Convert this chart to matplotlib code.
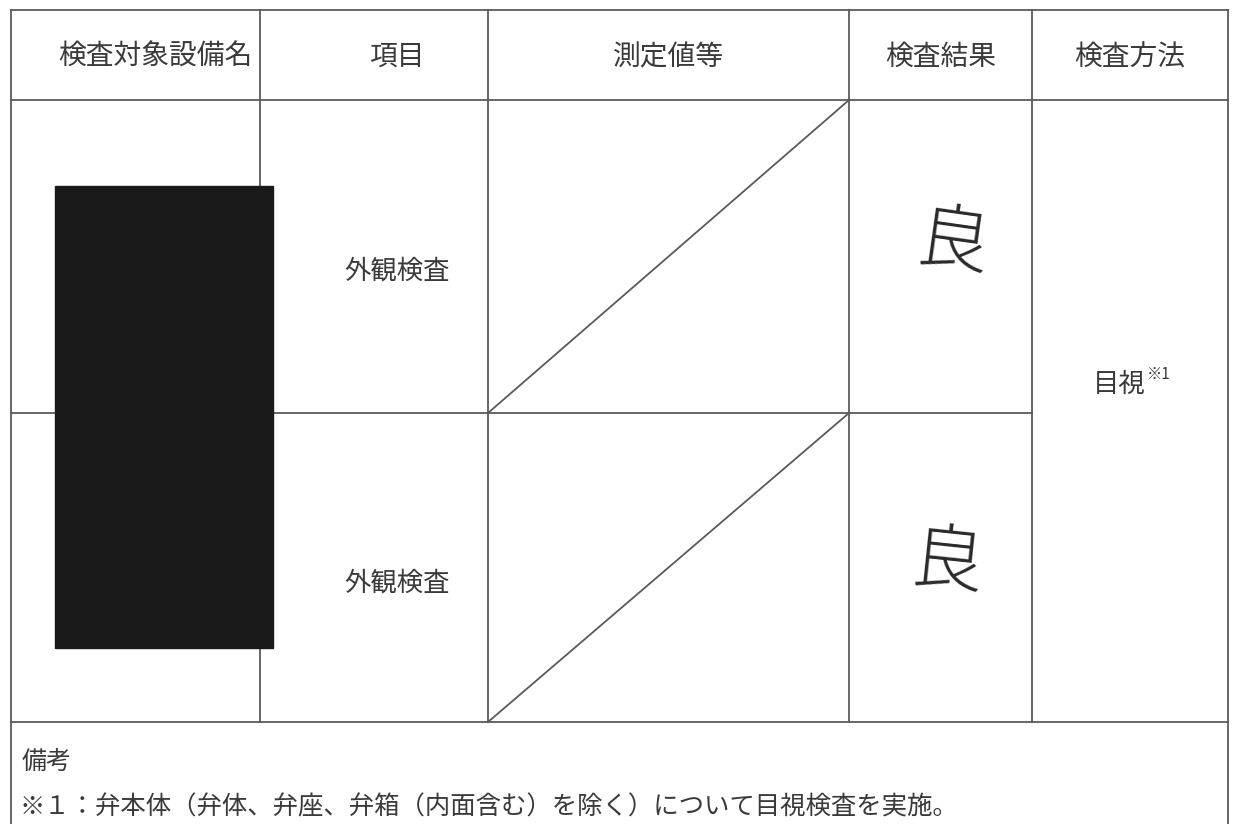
import matplotlib
matplotlib.use('Agg')
import matplotlib.pyplot as plt
from matplotlib.patches import Rectangle

plt.rcParams['font.family'] = ['Noto Sans CJK JP', 'DejaVu Sans']

headers = ['検査対象設備名', '項目', '測定値等', '検査結果', '検査方法']
items = ['外観検査', '外観検査']
results = ['良', '良']
method = '目視'
method_note = '※1'
remark_title = '備考'
remark_text = '※１：弁本体（弁体、弁座、弁箱（内面含む）を除く）について目視検査を実施。'

# layout in pixels
col_x = [11, 260, 488, 849, 1032, 1228]
row_y = [10, 100, 413, 722]
W, H = 1237, 824
line_c = '#5a5a5a'
txt_c = '#3a3a3a'

fig = plt.figure(figsize=(W / 100, H / 100), dpi=100)
ax = fig.add_axes([0, 0, 1, 1])
ax.set_xlim(0, W)
ax.set_ylim(H, 0)
ax.axis('off')

lw = 1.3
# outer frame (open at bottom, continues past page)
ax.plot([col_x[0], col_x[-1]], [row_y[0], row_y[0]], color=line_c, lw=lw)
ax.plot([col_x[0], col_x[0]], [row_y[0], H], color=line_c, lw=lw)
ax.plot([col_x[-1], col_x[-1]], [row_y[0], H], color=line_c, lw=lw)
ax.plot([col_x[0], col_x[-1]], [row_y[1], row_y[1]], color=line_c, lw=lw)
ax.plot([col_x[0], col_x[-1]], [row_y[3], row_y[3]], color=line_c, lw=lw)
# middle row line (method cell spans both rows)
ax.plot([col_x[0], col_x[4]], [row_y[2], row_y[2]], color=line_c, lw=lw)
for x in col_x[1:-1]:
    ax.plot([x, x], [row_y[0], row_y[3]], color=line_c, lw=lw)

# diagonal strike-through in measurement cells
for i in range(len(items)):
    ax.plot([col_x[2], col_x[3]], [row_y[i + 2], row_y[i + 1]], color=line_c, lw=lw)

# header texts
for i, h in enumerate(headers):
    ax.text((col_x[i] + col_x[i + 1]) / 2 + [20, 23, 0, 0, 0][i], (row_y[0] + row_y[1]) / 2 + 2, h,
            ha='center', va='center', fontsize=20, color=txt_c)

# redacted equipment name
ax.add_patch(Rectangle((55, 186), 218, 462, facecolor='#1a1a1a', edgecolor='#1a1a1a', zorder=3))

# items and results
for i, (it, r) in enumerate(zip(items, results)):
    ax.text(397, [271, 583][i], it, ha='center', va='center', fontsize=19, color=txt_c)
    ax.text([953, 947][i], [243, 563][i], r, ha='center', va='center', fontsize=52,
            color='#2a2a2a', fontweight='light', rotation=[-8, -6][i])

# method
ax.text(1093, 384, method, ha='left', va='center', fontsize=19, color=txt_c)
ax.text(1147, 374, method_note, ha='left', va='center', fontsize=11, color=txt_c)

# remarks
ax.text(22, 762, remark_title, ha='left', va='center', fontsize=18, color=txt_c)
ax.text(20, 807, remark_text, ha='left', va='center', fontsize=18.3, color=txt_c)

fig.savefig('out.png', dpi=100, facecolor='white')
plt.close(fig)
